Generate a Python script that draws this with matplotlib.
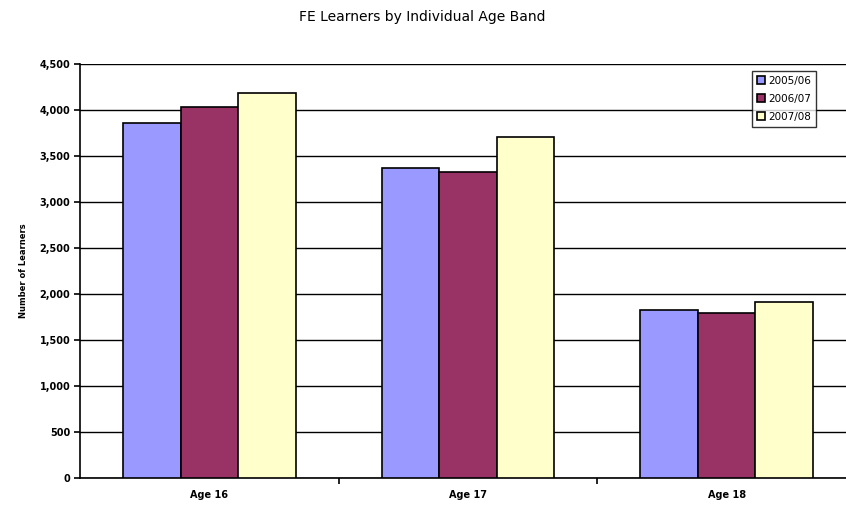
import numpy as np
import matplotlib.pyplot as plt

# values
categories = ['Age 16', 'Age 17', 'Age 18']
years = ['2005/06', '2006/07', '2007/08']
learners_0506 = [3852, 3370, 1824]
learners_0607 = [4026, 3326, 1785]
learners_0708 = [4178, 3700, 1908]
colors = ['#9999FF', '#993366', '#FFFFCC']

fig = plt.figure(figsize=(8.46, 5.09), dpi=100)
ax = fig.add_axes([0.0946, 0.0615, 0.9172, 0.8134])

x = np.arange(len(categories))
width = 1 / 4.5
series = [learners_0506, learners_0607, learners_0708]
for i, (vals, lab, col) in enumerate(zip(series, years, colors)):
    ax.bar(x + (i - 1) * width, vals, width, color=col, edgecolor='black',
           linewidth=1.2, label=lab, zorder=3)

ax.set_xlim(-0.5, len(categories) - 0.5)
ax.set_ylim(0, 4500)
ax.set_yticks(np.arange(0, 4501, 500))
ax.set_yticklabels([f'{v:,}' for v in range(0, 4501, 500)], fontsize=7, fontweight='bold')
ax.set_xticks(x)
ax.set_xticklabels(categories, fontsize=7, fontweight='bold')
ax.tick_params(axis='x', length=0, pad=9)
ax.set_xticks(np.arange(0.5, len(categories) - 0.5, 1), minor=True)
ax.tick_params(axis='x', which='minor', length=4, width=1.2, direction='out')
ax.tick_params(axis='y', length=4, width=1.2, direction='out', pad=3)

ax.grid(axis='y', color='black', linewidth=1.0, zorder=0)
for s in ['top', 'right']:
    ax.spines[s].set_visible(False)
ax.spines['left'].set_linewidth(1.2)
ax.spines['bottom'].set_linewidth(1.2)

ax.set_ylabel('Number of Learners', fontsize=6, fontweight='bold', labelpad=8)

fig.text(0.499, 0.966, 'FE Learners by Individual Age Band', ha='center', va='center',
         fontsize=10)

leg = ax.legend(loc='upper left', bbox_to_anchor=(0.8885, 0.861),
                bbox_transform=fig.transFigure, fontsize=7.5, frameon=True,
                fancybox=False, edgecolor='black', handlelength=0.8,
                handleheight=0.8, handletextpad=0.3, borderpad=0.5,
                labelspacing=0.75, borderaxespad=0)
leg.get_frame().set_linewidth(1.0)
leg.set_zorder(5)

plt.savefig('out.png', dpi=100)
plt.close()
